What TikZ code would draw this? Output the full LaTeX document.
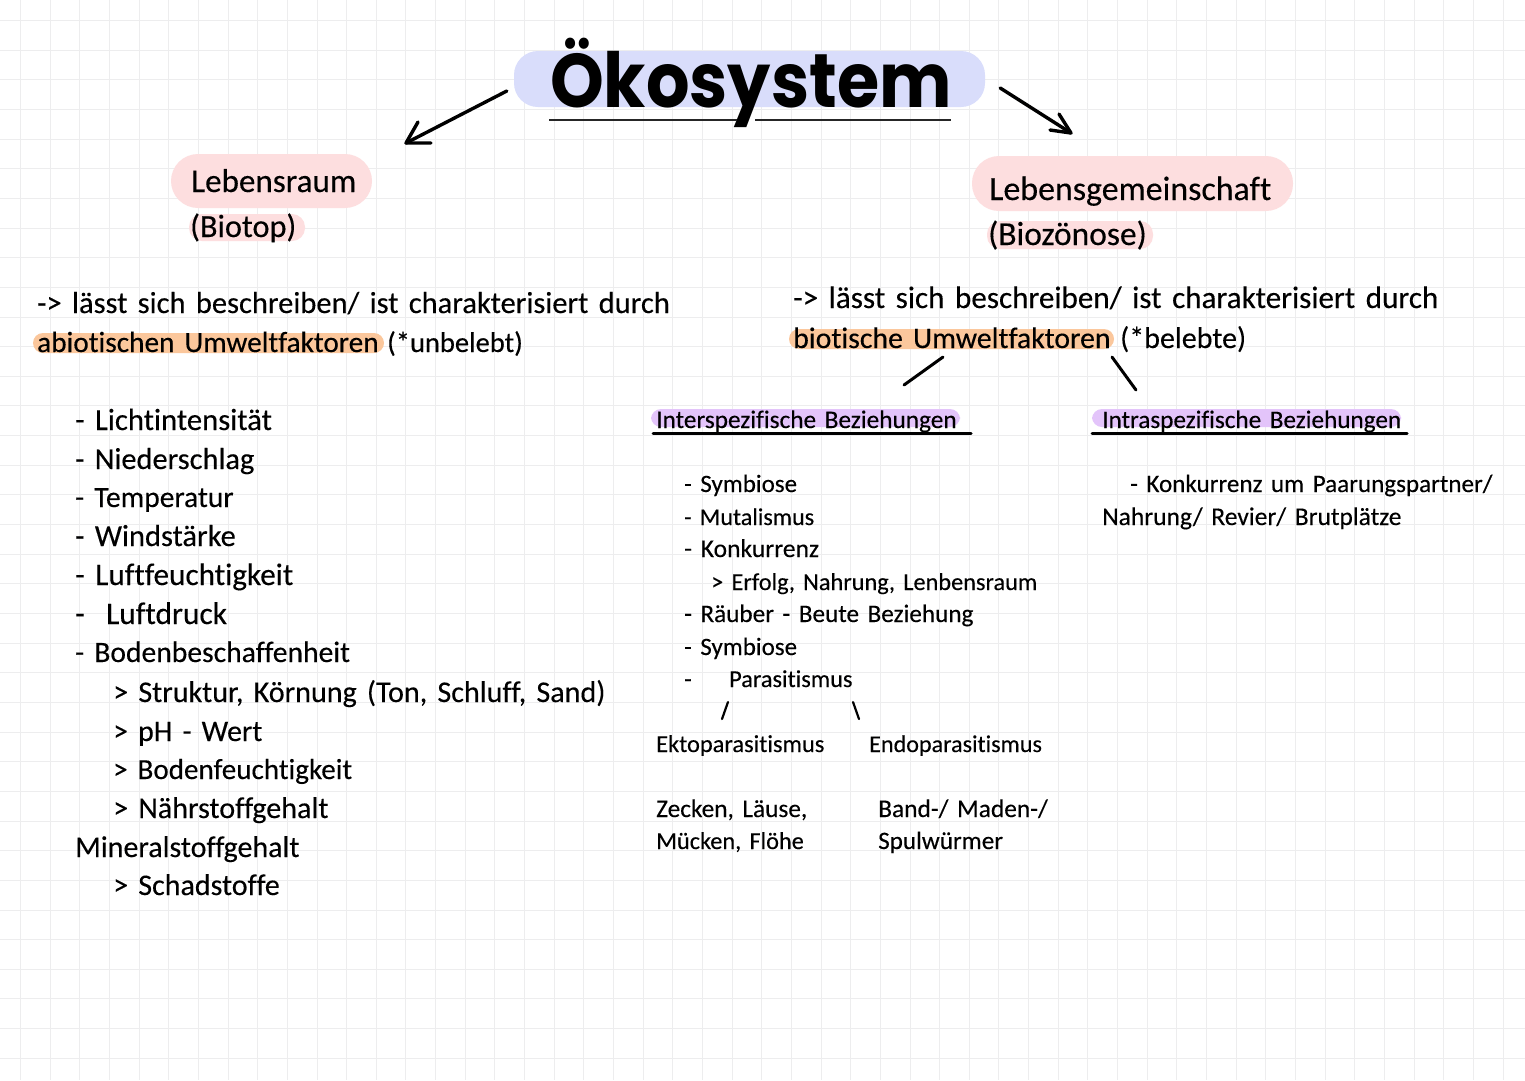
\documentclass[tikz,border=0pt]{standalone}
\usepackage{fontspec}
\setmainfont[WordSpace=1.5,Ligatures=NoCommon,FakeBold=0.25]{Carlito}
\newfontfamily\titelfont{Poppins}
\definecolor{gitter}{HTML}{EDEDEE}
\definecolor{lila}{HTML}{D9DDFB}
\definecolor{rosa}{HTML}{FDDEDF}
\definecolor{orange}{HTML}{FBC79C}
\definecolor{violett}{HTML}{E3C4FA}
\tikzset{
	txt/.style={anchor=base west,inner sep=0pt,text=black,font=\fontsize{#1}{30}\selectfont},
	pfeil/.style={line width=3.4pt,line cap=round,line join=round},
	strich/.style={line width=3pt,line cap=round},
	bar/.style={rounded corners=#1}
}
\begin{document}
\begin{tikzpicture}[x=1pt,y=-1pt]
	\useasboundingbox (0,0) rectangle (1525,1080);
	\fill[white] (0,0) rectangle (1525,1080);
	% gitter
	\foreach \i in {0,...,51}
		\draw[gitter,line width=1pt] ({20.5+29.65*\i},0) -- ({20.5+29.65*\i},1080);
	\foreach \i in {0,...,36}
		\draw[gitter,line width=1pt] (0,{20.5+29.65*\i}) -- (1525,{20.5+29.65*\i});
	% markierungen
	\node[fill=lila,rounded corners=24,inner sep=0pt,minimum width=471pt,minimum height=56pt] (balken) at (749.5,79) {};
	\fill[rosa,bar=27] (171,154) rectangle (372,208);
	\fill[rosa,bar=13] (189,214) rectangle (305,241);
	\fill[rosa,bar=27] (972,156) rectangle (1293,211);
	\fill[rosa,bar=13] (987,221) rectangle (1153,249);
	\fill[orange,bar=10] (33,333) rectangle (384,353);
	\fill[orange,bar=10] (789,329) rectangle (1114,349);
	\fill[violett,bar=10] (651,409) rectangle (960,427);
	\fill[violett,bar=10] (1092,409) rectangle (1401,427);
	% titel
	\node[txt=76,font=\titelfont\bfseries\fontsize{76}{76}\selectfont] (titel) at (550,107) {\scalebox{0.9}[1]{Ökosystem}};
	\draw[line width=2pt,black!85] (549,120) -- (737,120) (755,120) -- (951,120);
	\coordinate (pfeilL) at (406,143);
	\coordinate (pfeilR) at (1071,133);
	\draw[pfeil] ([shift={(-7,12)}]balken.west) -- (pfeilL);
	\draw[pfeil] (pfeilL) ++(25,0) -- (pfeilL) -- ++(12,-21);
	\draw[pfeil] ([shift={(15,9)}]balken.east) -- (pfeilR);
	\draw[pfeil] (pfeilR) ++(-21,-3) -- (pfeilR) -- ++(-12,-19);
	% linke seite
	\node[txt=33.1] (lebensraum) at (191,192) {Lebensraum};
	\node[txt=32.3] (biotop) at (190,237) {(Biotop)};
	\node[txt=30.5] (lbesch) at (37,313) {-> lässt sich beschreiben/ ist charakterisiert durch};
	\node[txt=29.3] (abio) at (37,352) {abiotischen Umweltfaktoren};
	\node[txt=28.5] (unbelebt) at (387,352) {(*unbelebt)};
	\foreach \nam/\xx/\yy/\gr/\tx in {
		a/75/430/30.7/- Lichtintensität,
		b/75/469/30.4/- Niederschlag,
		c/75/507/29.5/- Temperatur,
		d/75/546/30.5/- Windstärke,
		e/75/585/31.2/- Luftfeuchtigkeit,
		f/75/624/31.4/-\ \ Luftdruck,
		g/75/662/29.6/- Bodenbeschaffenheit,
		h/113/702/30.1/> Struktur{,} Körnung (Ton{,} Schluff{,} Sand),
		i/113/741/29.8/> pH - Wert,
		j/113/779/29.1/> Bodenfeuchtigkeit,
		k/113/818/30.1/> Nährstoffgehalt,
		l/75/857/30/Mineralstoffgehalt,
		m/113/895/30/> Schadstoffe}
		\node[txt=\gr] (\nam) at (\xx,\yy) {\tx};
	% rechte seite
	\node[txt=33.9] (lebensgem) at (989,200) {Lebensgemeinschaft};
	\node[txt=33.5] (bioz) at (988,245) {(Biozönose)};
	\node[txt=31.1] (rbesch) at (793,308) {-> lässt sich beschreiben/ ist charakterisiert durch};
	\node[txt=29.8] (bio) at (793,348) {biotische Umweltfaktoren};
	\node[txt=30] (belebt) at (1120,348) {(*belebte)};
	\node[txt=25.3] (inter) at (656,428) {Interspezifische Beziehungen};
	\node[txt=25.2] (intra) at (1102,428) {Intraspezifische Beziehungen};
	\draw[strich] (inter.south west) ++(-3,1) -- ++(318,0);
	\draw[strich] (intra.south west) ++(-10,1) -- ++(315,0);
	\coordinate (zweigA) at (943,357);
	\coordinate (zweigB) at (904,385);
	\coordinate (zweigC) at (1112,357);
	\coordinate (zweigD) at (1136,390);
	\draw[strich] (zweigA) -- (zweigB);
	\draw[strich] (zweigC) -- (zweigD);
	\foreach \nam/\xx/\yy/\gr/\tx in {
		s/684/492/25/- Symbiose,
		t/684/525/24.1/- Mutalismus,
		u/684/557/25.6/- Konkurrenz,
		v/711/590/24.3/> Erfolg{,} Nahrung{,} Lenbensraum,
		w/684/622/25.2/- Räuber - Beute Beziehung,
		x/684/655/25/- Symbiose,
		y/684/687/24.3/-,
		z/729/687/24.3/Parasitismus,
		ekto/656/752/24.4/Ektoparasitismus,
		endo/869/752/24.1/Endoparasitismus,
		zeck/656/817/25.3/{Zecken, Läuse,},
		muck/656/849/24.3/{Mücken, Flöhe},
		band/878/817/25.4/{Band-/ Maden-/},
		spul/878/849/25.1/Spulwürmer,
		konk/1130/492/25.1/{- Konkurrenz um Paarungspartner/},
		nahr/1102/525/25.5/{Nahrung/ Revier/ Brutplätze}}
		\node[txt=\gr] (\nam) at (\xx,\yy) {\tx};
	\coordinate (paraA) at (728,702);
	\coordinate (paraB) at (722,719);
	\coordinate (paraC) at (853,702);
	\coordinate (paraD) at (859,719);
	\draw[line width=2.2pt,line cap=round] (paraA) -- (paraB);
	\draw[line width=2.2pt,line cap=round] (paraC) -- (paraD);
\end{tikzpicture}
\end{document}
